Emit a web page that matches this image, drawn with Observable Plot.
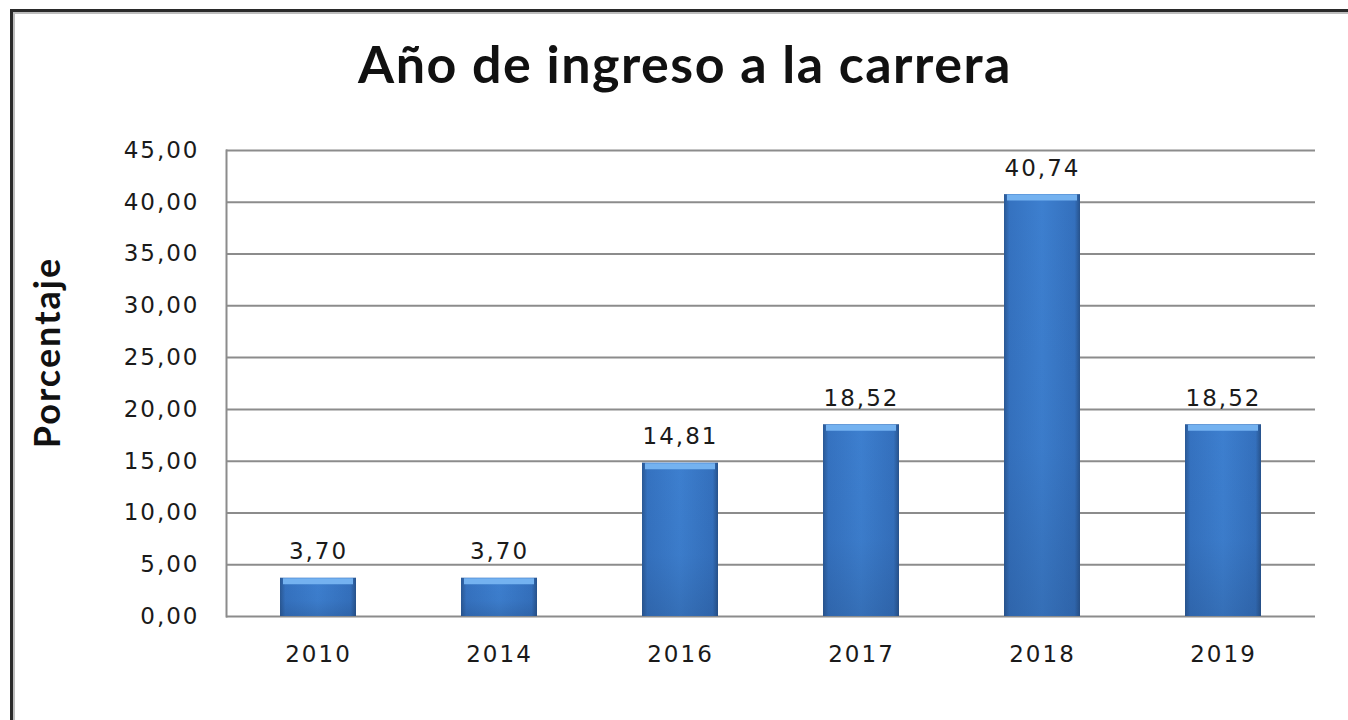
<!DOCTYPE html>
<html>
<head>
<meta charset="utf-8">
<script src="https://cdn.jsdelivr.net/npm/d3@7"></script>
<script src="https://cdn.jsdelivr.net/npm/@observablehq/plot@0.6"></script>
<style>
  html, body { margin: 0; padding: 0; background: #fff; width: 1348px; height: 720px; overflow: hidden; }
  #frame { position: absolute; left: 10px; top: 9px; width: 1400px; height: 760px;
           border-left: 3px solid #2a2a2a; border-top: 3px solid #2a2a2a;
           box-shadow: inset 2px 2px 0 #bdbdbd; }
  #title { position: absolute; left: 0; top: 33px; width: 1348px; padding-left: 22px; box-sizing: border-box;
           text-align: center; font-family: Lato, sans-serif; font-weight: 700; font-size: 52px; line-height: 60px;
           color: #111; letter-spacing: 1.5px; }
  #chart { position: absolute; left: 0; top: 110px; }
  #chart svg text { letter-spacing: 2px; }
</style>
</head>
<body>
<div id="frame"></div>
<div id="title">Año de ingreso a la carrera</div>
<div id="chart"></div>
<script>
const years = ["2010", "2014", "2016", "2017", "2018", "2019"];
const values = [3.70, 3.70, 14.81, 18.52, 40.74, 18.52];
const yTicks = [0, 5, 10, 15, 20, 25, 30, 35, 40, 45];
const yLabel = "Porcentaje";

const data = years.map((year, i) => ({year, value: values[i]}));
const fmt = d => d.toFixed(2).replace(".", ",");

const svg = Plot.plot({
  width: 1348,
  height: 610,
  marginLeft: 226,
  marginRight: 33,
  marginTop: 40,
  marginBottom: 104,
  style: {fontFamily: "'DejaVu Sans', Verdana, sans-serif", fontSize: "23px", color: "#1a1a1a", background: "transparent", overflow: "visible"},
  x: {domain: years, paddingInner: 0.58, paddingOuter: 0.29, label: null},
  y: {domain: [0, 45], label: null},
  marks: [
    Plot.gridY(yTicks, {stroke: "#8c8c8c", strokeOpacity: 1, strokeWidth: 2}),
    Plot.frame({anchor: "left", stroke: "#8c8c8c", strokeWidth: 2}),
    Plot.barY(data, {x: "year", y: "value", fill: "url(#barH)"}),
    Plot.barY(data, {x: "year", y: "value", fill: "url(#barV)"}),
    Plot.tickY(data, {x: "year", y: "value", stroke: "#74b2f0", strokeWidth: 6, dy: 3, insetLeft: 3, insetRight: 3}),
    Plot.text(data, {x: "year", y: "value", text: d => fmt(d.value), dy: -19, lineAnchor: "bottom", fill: "#1a1a1a"}),
    Plot.axisX({tickSize: 0, tickPadding: 29, label: null}),
    Plot.axisY({ticks: yTicks, tickSize: 0, tickPadding: 27, tickFormat: fmt, label: null}),
    Plot.text([yLabel], {text: d => d, frameAnchor: "left", textAnchor: "middle", rotate: -90, dx: -178, dy: -31,
      fontFamily: "Lato, sans-serif", fontWeight: 700, fontSize: 36, fill: "#111"})
  ]
});

const defs = d3.select(svg).insert("defs", ":first-child");
const gh = defs.append("linearGradient").attr("id", "barH").attr("x1", 0).attr("x2", 1).attr("y1", 0).attr("y2", 0);
[[0, "#2a5894"], [0.07, "#3572c0"], [0.5, "#3d7fcf"], [0.93, "#3470bd"], [1, "#27528b"]]
  .forEach(([o, c]) => gh.append("stop").attr("offset", o).attr("stop-color", c));
const gv = defs.append("linearGradient").attr("id", "barV").attr("x1", 0).attr("x2", 0).attr("y1", 0).attr("y2", 1);
[[0, "#1e3f6e", 0], [0.6, "#1e3f6e", 0.05], [1, "#1e3f6e", 0.25]]
  .forEach(([o, c, a]) => gv.append("stop").attr("offset", o).attr("stop-color", c).attr("stop-opacity", a));

document.getElementById("chart").appendChild(svg);
</script>
</body>
</html>
